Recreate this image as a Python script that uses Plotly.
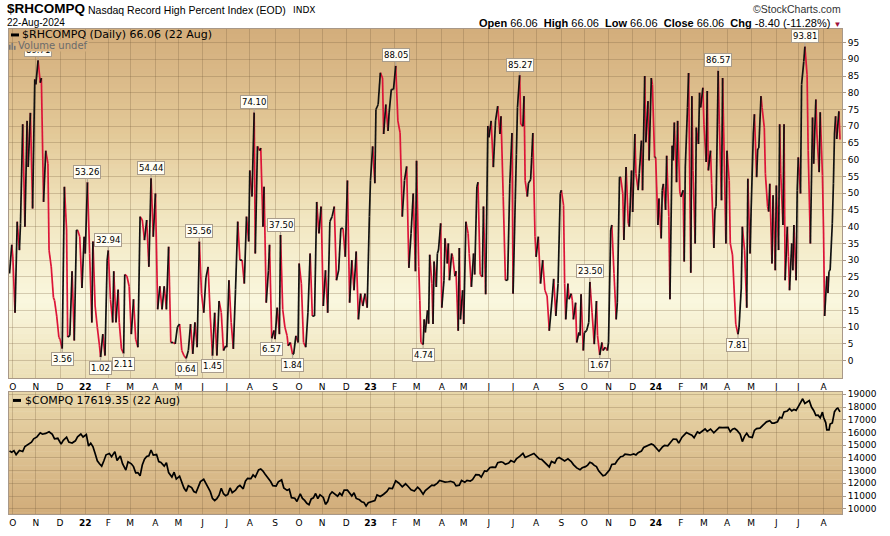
import numpy as np
import pandas as pd
import plotly.graph_objects as go

# ---------------- data ----------------
# $RHCOMPQ readings, grouped by month; each month's readings are spread over its trading days
rh_2021 = [  # Sep (28th on) .. Dec
    [26, 34.6],
    [31, 14.3, 41.5, 33, 41, 70.6, 40, 71.6, 57.8, 74, 45.4, 84],
    [82.5, 89.71, 83, 84.4, 47.4, 62.7, 58.8, 33, 28, 18.8, 18, 13.3, 6.9],
    [6.4, 3.56, 51.9, 39, 7, 7.5, 26.7, 6, 39, 39, 37, 21.7, 37],
]
rh_2022 = [  # Jan .. Dec
    [32, 53.26, 32, 11.4, 35.6, 16.3, 9.9, 4.4, 1.02, 7.9, 1.5, 30],
    [32.94, 18.3, 11.4, 26.7, 11.4, 21.2, 11.4, 3.5, 2.11, 25.7, 25.2, 22.2],
    [7.9, 18.3, 6.4, 4, 43, 42, 36, 42, 28, 54.44, 37],
    [49.9, 15.3, 22.2, 15.3, 22.2, 15.3, 34, 5.4, 5.4, 5, 10],
    [10.9, 3, 1.5, 0.64, 3, 10.9, 2, 11.4, 4, 35.56, 20],
    [14.3, 24.7, 28, 13, 1.45, 14.3, 1.5, 17.8, 14.3, 3, 4.4],
    [4, 24, 11.4, 3.5, 21.2, 41.5, 30, 30, 23, 43, 35.6],
    [56.8, 49, 74.10, 32, 64, 62.7, 63.5, 40, 51.9, 17.3, 27, 34.6, 6.57, 9],
    [6.4, 15.8, 7.9, 37.50, 15.3, 10, 7.4, 4.4, 5.4, 1.84, 2, 7.4, 5.4],
    [29, 23, 5.4, 4, 14.3, 32, 13.3, 13.3, 47.4, 38, 46],
    [16.3, 27, 14.3, 41.5, 43, 46, 24, 27, 39.5, 39.5, 31],
    [53.8, 17.3, 30, 21, 32.6, 12.3, 20, 16.3, 20, 15.8, 43],
]
rh_2023 = [  # Jan .. Dec
    [53.8, 64, 53, 75, 76.5, 86, 84.4, 67.7, 76.5, 68.6, 74, 81, 81],
    [88.05, 71.6, 68, 43, 53.8, 58, 27.7, 38, 49.9, 26.7],
    [59.7, 28, 18, 5.4, 4.74, 12.3, 8.4, 15, 11, 31.6, 23, 10.9, 29.6, 22, 32, 33, 41],
    [15.8, 24, 36.5, 29, 35, 24, 32, 31, 25.2, 26.7, 8.9, 33.6, 12.3, 21],
    [10.9, 41.5, 38, 32, 22, 32, 25.7, 51.9, 53.3, 25.7, 25, 46, 19.8, 70.1],
    [66.7, 71.6, 57.8, 71.6, 76, 67.7, 73, 49, 24, 24, 52.8, 68],
    [20, 48, 61.6, 75.6, 85.27, 70.6, 70, 79, 53.8, 49, 53, 54, 60.7, 68, 37],
    [31, 37, 23, 30, 21, 19.3, 8.9, 16.3, 24.4, 13.3, 23, 49.9],
    [50.9, 46.4, 23, 12.3, 23, 18.3, 20, 18, 12.3, 17.3, 5.4, 8.4, 7.5, 19.8, 3],
    [8.4, 8.9, 11.4, 23.50, 14.3, 4.9, 17.8, 7.4, 1.67, 5.4, 3, 4, 3],
    [5.4, 39, 40.5, 26, 12.3, 17.3, 54.8, 54.8, 49.9, 36, 57.8, 41, 40, 56.8],
    [44.4, 67.7, 55.8, 50.9, 55.8, 65.7, 50.9, 85, 65.2, 77.5, 59.8, 84.4, 82.5, 60.7],
]
rh_2024 = [  # Jan .. Aug (22nd)
    [60.7, 40.5, 48.4, 36.5, 50.9, 52.8, 45, 61.2, 43, 18.3, 64.2, 59.8, 71.1, 53.3, 71.6, 50.4],
    [48.9, 50.9, 29.6, 57.8, 75.6, 85.9, 26.2, 79, 56.8, 35, 69.6, 64.7, 80, 75.6, 81.5],
    [70.6, 59.3, 80.5, 56.8, 62.7, 52.8, 33.6, 45, 46, 86.57, 70.6, 47.9, 84.4, 68, 35],
    [62.7, 53.8, 35, 31.6, 17.8, 10.9, 7.81, 10, 21.7, 40, 33, 15.8, 54.3, 32],
    [45, 67.7, 73.6, 54.8, 63.2, 63.5, 79, 75.6, 69.6, 55.8, 46, 44.5, 52.8, 29, 49.4, 27],
    [52.3, 33, 70.6, 55.8, 40.5, 70.6, 24, 40, 31, 21, 35, 27, 40.5, 24, 50.9],
    [60.7, 49.9, 82.5, 89.4, 93.81, 85.4, 62.7, 35, 72.6, 58.8, 78, 67.7, 56.3, 74.2, 55.3],
    [39, 13.3, 25.2, 20.2, 26.7, 27, 41, 52.8, 67.7, 73, 66.2, 74.46, 66.06],
]

# $COMPQ readings, grouped by month
compq_2021 = [
    [14546, 14448],
    [14567, 14255, 14580, 14501, 14897, 15090, 15235, 15498],
    [15650, 15971, 15861, 15921, 16057, 15854, 15491, 15538],
    [15085, 15381, 15630, 15238, 15169, 15341, 15653, 15871, 15645],
]
compq_2022 = [
    [15832, 14936, 15153, 14893, 14340, 13769, 13540, 13352, 13770, 14240],
    [14346, 14098, 14490, 13791, 14139, 13548, 13037, 13694],
    [13532, 13313, 12830, 12843, 12581, 13436, 13894, 14108, 14169, 14619, 14220],
    [14262, 13711, 13646, 13351, 13619, 12839, 12490, 12872, 12335],
    [12564, 12145, 11623, 11364, 11805, 11662, 11355, 11264, 11740, 12131],
    [12317, 12013, 11754, 11340, 10809, 10646, 10798, 11069, 11608, 11181, 11029],
    [11128, 11635, 11264, 11452, 11713, 11834, 11563, 12162, 12391],
    [12369, 12657, 12493, 13047, 13128, 12966, 12705, 12381, 12141, 11816],
    [11785, 12112, 12266, 11634, 11448, 11535, 10868, 10829, 10576],
    [11176, 10815, 10652, 10426, 10321, 10773, 10860, 11199, 10792, 11102],
    [10890, 10343, 10565, 11114, 11323, 11146, 10982, 11226, 11049, 11468],
    [11461, 11240, 11005, 11256, 10811, 10705, 10547, 10498, 10213, 10466],
]
compq_2023 = [
    [10569, 10636, 11079, 10958, 11140, 11364, 11622, 11584],
    [12201, 12007, 11718, 11960, 11787, 11492, 11395],
    [11689, 11530, 11138, 11428, 11631, 11860, 11824, 12013, 12222],
    [12126, 12088, 12123, 12157, 12072, 11799, 11854, 12227],
    [12080, 12235, 12180, 12285, 12688, 12658, 12484, 12976, 12935],
    [13241, 13276, 13259, 13626, 13689, 13630, 13492, 13591, 13788],
    [13660, 13918, 14113, 14358, 14032, 14144, 14317, 14346],
    [14080, 13909, 13884, 13645, 13474, 13290, 13721, 13590, 13943, 14035],
    [13872, 13762, 13926, 13708, 13469, 13212, 13063, 13219],
    [13307, 13431, 13659, 13575, 13407, 13314, 12984, 12821, 12595, 12643, 12851],
    [13061, 13478, 13521, 13798, 14094, 14125, 14284, 14250, 14226],
    [14305, 14229, 14404, 14533, 14814, 14904, 14993, 15095, 15011],
]
compq_2024 = [
    [14765, 14524, 14843, 14973, 14944, 15311, 15482, 15455, 15164],
    [15629, 15783, 15990, 15859, 15776, 15580, 16041, 15947, 16092],
    [16274, 16085, 16266, 15973, 16167, 16402, 16384, 16379],
    [16396, 16049, 16249, 16306, 16175, 15865, 15282, 15696, 15928, 15658],
    [15605, 16156, 16302, 16341, 16511, 16686, 16832, 16921, 16737, 16735],
    [16828, 17187, 17133, 17609, 17689, 17862, 17689, 17805, 17733],
    [18028, 18353, 18647, 18283, 18398, 18509, 17997, 17727, 17342, 17358, 17147, 17599],
    [17194, 16776, 16200, 16195, 16660, 16745, 17188, 17631, 17877, 17918, 17619.35],
]

rh_peak_labels = [89.71, 53.26, 32.94, 54.44, 35.56, 74.10, 37.50, 88.05, 85.27, 23.50, 86.57, 93.81]
rh_trough_labels = [3.56, 1.02, 2.11, 0.64, 1.45, 6.57, 1.84, 4.74, 1.67, 7.81]

month_letters = ["J", "F", "M", "A", "M", "J", "J", "A", "S", "O", "N", "D"]
first_day, last_day = "2021-09-28", "2024-08-22"
rh_open = rh_high = rh_low = rh_close = 66.06
rh_chg, rh_chg_pct = -8.40, -11.28
compq_last = 17619.35
rh_ticks = list(range(0, 100, 5))
compq_ticks = list(range(10000, 19001, 1000))

# ---------------- layout helpers ----------------
W, H = 890, 536
ML, MR, MT, MB = 8, 48, 29, 18
PW, PH = W - ML - MR, H - MT - MB


def px(x):
    return (x - ML) / PW


def py(y):
    return (H - MB - y) / PH


bdays = pd.bdate_range(first_day, last_day)


def spread(blocks):
    xs, ys = [], []
    for year, m0, months in blocks:
        for i, vals in enumerate(months):
            days = bdays[(bdays.year == year) & (bdays.month == m0 + i)]
            n, k = len(days), len(vals)
            for j, v in enumerate(vals):
                xs.append(days[min(n - 1, int((j + 0.5) * n / k))])
                ys.append(v)
    return xs, ys


rh_x, rh_y = spread([(2021, 9, rh_2021), (2022, 1, rh_2022), (2023, 1, rh_2023), (2024, 1, rh_2024)])
cq_x, cq_y = spread([(2021, 9, compq_2021), (2022, 1, compq_2022), (2023, 1, compq_2023), (2024, 1, compq_2024)])

up_x, up_y, dn_x, dn_y = [], [], [], []
for i in range(len(rh_y) - 1):
    if rh_y[i + 1] >= rh_y[i]:
        up_x += [rh_x[i], rh_x[i + 1], None]
        up_y += [rh_y[i], rh_y[i + 1], None]
    else:
        dn_x += [rh_x[i], rh_x[i + 1], None]
        dn_y += [rh_y[i], rh_y[i + 1], None]

# month ticks
tickvals, ticktext = [], []
for m in pd.period_range("2021-10", "2024-08", freq="M"):
    d = bdays[(bdays.year == m.year) & (bdays.month == m.month)][0]
    tickvals.append(d)
    ticktext.append("<b>%02d</b>" % (m.year % 100) if m.month == 1 else month_letters[m.month - 1])

# ---------------- figure ----------------
fig = go.Figure()
fig.add_trace(go.Scatter(x=dn_x, y=dn_y, mode="lines", line=dict(color="#dc1438", width=1.7),
                         xaxis="x", yaxis="y", hoverinfo="skip", showlegend=False))
fig.add_trace(go.Scatter(x=up_x, y=up_y, mode="lines", line=dict(color="#111111", width=1.7),
                         xaxis="x", yaxis="y", hoverinfo="skip", showlegend=False))
fig.add_trace(go.Scatter(x=cq_x, y=cq_y, mode="lines", line=dict(color="#000000", width=1.7),
                         xaxis="x2", yaxis="y2", hoverinfo="skip", showlegend=False))


# gradient backgrounds
def lerp_color(stops, t):
    for (t0, c0), (t1, c1) in zip(stops[:-1], stops[1:]):
        if t0 <= t <= t1:
            f = (t - t0) / (t1 - t0) if t1 > t0 else 0
            c = [round(a + (b - a) * f) for a, b in zip(c0, c1)]
            return "rgb(%d,%d,%d)" % tuple(c)
    return "rgb(%d,%d,%d)" % tuple(stops[-1][1])


top_stops = [(0.0, (211, 173, 123)), (0.3, (227, 201, 152)), (0.55, (242, 231, 194)),
             (0.78, (250, 247, 222)), (1.0, (236, 223, 182))]
bot_stops = [(0.0, (233, 215, 170)), (1.0, (209, 172, 122))]

shapes = []


def bands(ytop_px, ybot_px, stops, n=70):
    for i in range(n):
        t0, t1 = i / n, (i + 1) / n
        col = lerp_color(stops, (t0 + t1) / 2)
        y_a = ytop_px + t0 * (ybot_px - ytop_px)
        y_b = ytop_px + t1 * (ybot_px - ytop_px) + 0.6
        shapes.append(dict(type="rect", xref="paper", yref="paper", x0=0, x1=1,
                           y0=py(min(y_b, ybot_px)), y1=py(y_a), fillcolor=col,
                           line=dict(width=0), layer="below"))


bands(29, 381, top_stops)
bands(395, 518, bot_stops)

# legend swatches
shapes.append(dict(type="rect", xref="paper", yref="paper", x0=px(10), x1=px(18), y0=py(36.5), y1=py(33.5),
                   fillcolor="#000", line=dict(width=0)))
shapes.append(dict(type="rect", xref="paper", yref="paper", x0=px(12), x1=px(20), y0=py(405), y1=py(402),
                   fillcolor="#000", line=dict(width=0)))
for bx, bh in [(8, 5), (10.5, 7), (13, 4)]:
    shapes.append(dict(type="rect", xref="paper", yref="paper", x0=px(bx), x1=px(bx + 1.6),
                       y0=py(50), y1=py(50 - bh), fillcolor="#777", line=dict(width=0)))

grid = "rgba(120,95,60,0.28)"
frame = "#a89888"
tickfont = dict(family="DejaVu Sans", size=9, color="#000")

xcommon = dict(type="date", rangebreaks=[dict(bounds=["sat", "mon"])],
               range=["2021-09-27 12:00", "2024-08-23 20:00"], tickvals=tickvals, ticktext=ticktext,
               showgrid=True, gridcolor=grid, gridwidth=1, ticks="", showline=True, mirror=True,
               linecolor=frame, linewidth=1, tickfont=tickfont, zeroline=False, fixedrange=True)

annotations = []


def txt(x, y, s, size, family="Liberation Sans", color="#000", xanchor="left", bg=None):
    d = dict(xref="paper", yref="paper", x=px(x), y=py(y), text=s, showarrow=False, xanchor=xanchor,
             yanchor="middle", font=dict(family=family, size=size, color=color), borderpad=0)
    if bg:
        d["bgcolor"] = bg
    annotations.append(d)


label_style = dict(font=dict(family="DejaVu Sans", size=8.5, color="#000"), bgcolor="#fffdf4",
                   bordercolor="#a89c8c", borderwidth=1, borderpad=1, showarrow=True, arrowhead=0,
                   arrowwidth=1.2, arrowcolor="#b4a898", ax=0, xref="x", yref="y")
for v in rh_peak_labels:
    i = rh_y.index(v)
    annotations.append(dict(x=rh_x[i], y=v, text="%.2f" % v, ay=-10.5, **label_style))
for v in rh_trough_labels:
    i = rh_y.index(v)
    annotations.append(dict(x=rh_x[i], y=v, text="%.2f" % v, ay=10.5, **label_style))

# header
txt(5, 8.5, "<b>$RHCOMPQ</b>", 13.5)
txt(86, 9.5, "Nasdaq Record High Percent Index (EOD)", 10.5)
txt(291, 9.5, "INDX", 9, family="DejaVu Sans")
txt(5, 22, "22-Aug-2024", 10)
txt(842, 9.3, "©StockCharts.com", 10.5, color="#333", xanchor="right")
nb = "\u00a0"
ohlc = ("<b>Open</b>{s}{o:.2f}{s}{s}<b>High</b>{s}{h:.2f}{s}{s}<b>Low</b>{s}{l:.2f}{s}{s}"
        "<b>Close</b>{s}{c:.2f}{s}{s}<b>Chg</b>{s}{ch:.2f}{s}({p:.2f}%){s}"
        "<span style='color:#a0103a;font-size:8px'>▼</span>").format(
    s=nb, o=rh_open, h=rh_high, l=rh_low, c=rh_close, ch=rh_chg, p=rh_chg_pct)
txt(842, 22.7, ohlc, 11, xanchor="right")

# panel legends
txt(20, 35, "$RHCOMPQ (Daily) %.2f (22 Aug)" % rh_close, 11, family="DejaVu Sans")
txt(16, 45.5, "Volume undef", 10, family="DejaVu Sans", color="#6b6b6b",
    bg=lerp_color(top_stops, (45.5 - 29) / 352))
txt(23, 403.5, "$COMPQ %.2f (22 Aug)" % compq_last, 11, family="DejaVu Sans")

fig.update_layout(
    width=W, height=H, margin=dict(l=ML, r=MR, t=MT, b=MB),
    paper_bgcolor="#ffffff", plot_bgcolor="#ffffff",
    showlegend=False, hovermode=False,
    xaxis=dict(domain=[0, 1], anchor="y", **xcommon),
    xaxis2=dict(domain=[0, 1], anchor="y2", matches="x", **xcommon),
    yaxis=dict(domain=[py(381), 1], side="right", range=[(363.3 - 381) / 3.375, (363.3 - 29) / 3.375],
               tickvals=rh_ticks, ticks="outside", ticklen=3, tickcolor=frame, showgrid=True,
               gridcolor=grid, showline=True, mirror=True, linecolor=frame, tickfont=tickfont,
               zeroline=False, fixedrange=True),
    yaxis2=dict(domain=[0, py(395)], side="right", range=[9585, 19180], tickvals=compq_ticks,
                tickformat="d", ticks="outside", ticklen=3, tickcolor=frame, showgrid=True,
                gridcolor=grid, showline=True, mirror=True, linecolor=frame, tickfont=tickfont,
                zeroline=False, fixedrange=True),
    shapes=shapes, annotations=annotations,
)

fig.write_html("out.html", config={"displayModeBar": False},
               post_script="document.body.style.margin='0';document.body.style.overflow='hidden';")
